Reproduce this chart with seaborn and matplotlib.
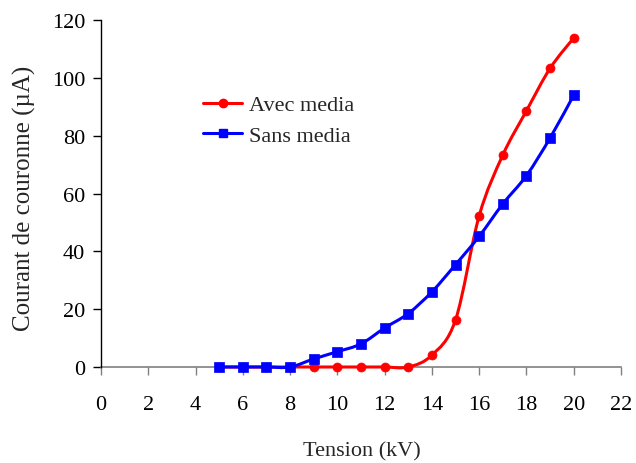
import numpy as np
import pandas as pd
import matplotlib
matplotlib.use("Agg")
import matplotlib.pyplot as plt
from matplotlib.path import Path
from matplotlib.patches import PathPatch
from matplotlib.lines import Line2D
import seaborn as sns

# Corona current versus applied voltage, with and without media
tension_kv = [5, 6, 7, 8, 9, 10, 11, 12, 13, 14, 15, 16, 17, 18, 19, 20]
avec_media = [0, 0, 0, 0, 0, 0, 0, 0, 0, 4.1, 16.3, 52.3, 73.3, 88.6, 103.3, 113.8]
sans_media = [0, 0, 0, 0, 2.8, 5.3, 8.0, 13.5, 18.5, 26.0, 35.4, 45.2, 56.4, 66.2, 79.2, 94.0]

series_names = ["Avec media", "Sans media"]
series_values = [avec_media, sans_media]
series_colors = ["#ff0000", "#0000ff"]
series_markers = ["o", "s"]

x_ticks = list(range(0, 23, 2))
y_ticks = list(range(0, 121, 20))

sns.set_theme(style="white")
plt.rcParams["font.family"] = ["Liberation Serif", "DejaVu Serif"]

df = pd.DataFrame({
    "Tension (kV)": tension_kv * 2,
    "Courant": avec_media + sans_media,
    "Série": [series_names[0]] * len(tension_kv) + [series_names[1]] * len(tension_kv),
})

fig = plt.figure(figsize=(6.36, 4.64), dpi=100)
ax = fig.add_axes([101 / 636, 1 - 368 / 464, 520 / 636, 347 / 464])


def smooth_path(xs, ys):
    """Cubic Bezier path through the points (Catmull-Rom style smoothing)."""
    pts = np.column_stack([xs, ys]).astype(float)
    n = len(pts)
    verts = [pts[0]]
    codes = [Path.MOVETO]
    for i in range(n - 1):
        p0 = pts[max(i - 1, 0)]
        p1 = pts[i]
        p2 = pts[i + 1]
        p3 = pts[min(i + 2, n - 1)]
        c1 = p1 + (p2 - p0) / 6.0
        c2 = p2 - (p3 - p1) / 6.0
        verts += [c1, c2, p2]
        codes += [Path.CURVE4] * 3
    return Path(np.array(verts), codes)


handles = []
for k, (name, vals, col, mk) in enumerate(zip(series_names, series_values,
                                              series_colors, series_markers)):
    ax.add_patch(PathPatch(smooth_path(tension_kv, vals), facecolor="none",
                           edgecolor=col, lw=2.2, zorder=3 + 0.5 * k,
                           capstyle="round", joinstyle="round", clip_on=False))
    handles.append(Line2D([], [], color=col, lw=2.2, marker=mk, markersize=6,
                          markeredgecolor=col))

# the blue series is drawn last so its squares sit on top of the red circles
for name, col, mk in zip(series_names, series_colors, series_markers):
    sub = df[df["Série"] == name]
    sns.scatterplot(data=sub, x="Tension (kV)", y="Courant", color=col,
                    marker=mk, s=42, edgecolor=col, linewidth=0.5, ax=ax,
                    zorder=4, legend=False)
for coll in ax.collections:
    coll.set_clip_on(False)

ax.set_xlim(0, 22)
ax.set_ylim(0, 120)
ax.set_xticks(x_ticks)
ax.set_yticks(y_ticks)
ax.tick_params(axis="both", labelsize=16, colors="#000000")
ax.tick_params(axis="x", direction="out", length=5.5, width=1, pad=14.5,
               color="#808080", bottom=True)
ax.tick_params(axis="y", direction="out", length=5.5, width=1, pad=6,
               color="#000000", left=True)

for s in ["top", "right"]:
    ax.spines[s].set_visible(False)
ax.spines["bottom"].set_color("#808080")
ax.spines["bottom"].set_linewidth(1.2)
ax.spines["bottom"].set_zorder(2)
ax.spines["left"].set_color("#000000")
ax.spines["left"].set_linewidth(1.0)

ax.set_xlabel("Tension (kV)", fontsize=16)
ax.set_ylabel("Courant de couronne (µA)", fontsize=18)
ax.xaxis.set_label_coords(0.502, -0.215)
ax.yaxis.set_label_coords(-0.125, 0.49)

ax.legend(handles, series_names, loc="upper left", bbox_to_anchor=(0.18, 0.81),
          frameon=False, fontsize=16, handlelength=1.75, handletextpad=0.3,
          labelspacing=0.45, borderaxespad=0)

fig.savefig("out.png", dpi=100)
